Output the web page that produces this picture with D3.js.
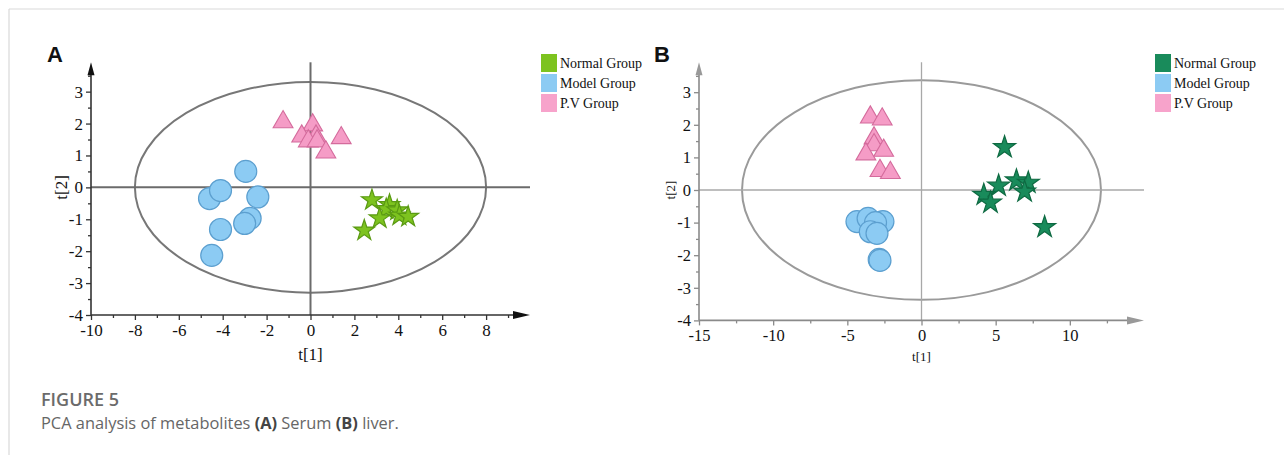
<!DOCTYPE html>
<html>
<head>
<meta charset="utf-8">
<script src="https://cdn.jsdelivr.net/npm/d3@7"></script>
<style>
  body { margin: 0; background: #fff; }
  svg { display: block; }
</style>
</head>
<body>
<script>
// group names (legend order)
var groups = ["Normal Group", "Model Group", "P.V Group"];

// panel A - serum PCA scores [t1, t2]
var serumNormal = [[2.8, -0.4], [3.6, -0.55], [3.45, -0.68], [3.95, -0.72], [4.05, -0.88], [4.45, -0.92], [3.15, -0.97], [2.45, -1.35]];
var serumModel  = [[-2.95, 0.5], [-4.6, -0.35], [-4.1, -0.1], [-2.4, -0.3], [-2.75, -0.97], [-3.0, -1.13], [-4.1, -1.32], [-4.5, -2.13]];
var serumPV     = [[-1.25, 2.05], [0.1, 1.95], [-0.4, 1.6], [0.25, 1.6], [-0.1, 1.45], [0.3, 1.45], [0.7, 1.1], [1.4, 1.55]];
var serumXTicks = [-10, -8, -6, -4, -2, 0, 2, 4, 6, 8];
var serumYTicks = [-4, -3, -2, -1, 0, 1, 2, 3];
var serumEllipse = [8, 3.3];

// panel B - liver PCA scores [t1, t2]
var liverNormal = [[5.6, 1.31], [5.2, 0.13], [6.4, 0.29], [7.2, 0.22], [6.95, -0.05], [4.2, -0.15], [4.65, -0.39], [8.3, -1.14]];
var liverModel  = [[-4.35, -0.97], [-3.6, -0.87], [-2.6, -0.97], [-3.1, -1.0], [-3.45, -1.28], [-3.0, -1.33], [-2.85, -2.13], [-2.8, -2.16]];
var liverPV     = [[-3.45, 2.23], [-2.65, 2.17], [-3.2, 1.59], [-3.2, 1.38], [-2.55, 1.21], [-3.75, 1.1], [-2.8, 0.59], [-2.1, 0.53]];
var liverXTicks = [-15, -10, -5, 0, 5, 10];
var liverYTicks = [-4, -3, -2, -1, 0, 1, 2, 3];
var liverEllipse = [12.1, 3.37];

var W = 1284, H = 457;
var svg = d3.select("body").append("svg").attr("width", W).attr("height", H);

// card frame
svg.append("line").attr("x1", 9).attr("y1", 9).attr("x2", W).attr("y2", 9)
  .attr("stroke", "#d9d9d9").attr("stroke-width", 1.2);
svg.append("line").attr("x1", 9).attr("y1", 9).attr("x2", 9).attr("y2", 455)
  .attr("stroke", "#d9d9d9").attr("stroke-width", 1.2);

var serif = "'Liberation Serif', 'Times New Roman', serif";

function minorTicks(ticks, step) {
  var out = [];
  for (var i = 0; i < ticks.length; i++) out.push(ticks[i] + step / 2);
  return out;
}

function drawPanel(p) {
  var x = d3.scaleLinear().domain(p.xDomain).range(p.xRange);
  var y = d3.scaleLinear().domain(p.yDomain).range(p.yRange);
  var g = svg.append("g");
  var x0 = p.xRange[0], yb = p.yRange[0], yt = p.yRange[1], xr = p.xRange[1];

  // letter
  g.append("text").attr("x", p.letterX).attr("y", 62).text(p.letter)
    .attr("font-family", "'Liberation Sans', Arial, sans-serif")
    .attr("font-weight", "bold").attr("font-size", 22).attr("fill", "#111");

  // ellipse (Hotelling T2)
  g.append("ellipse")
    .attr("cx", x(0)).attr("cy", y(0))
    .attr("rx", x(p.ellipse[0]) - x(0)).attr("ry", y(0) - y(p.ellipse[1]))
    .attr("fill", "none").attr("stroke", p.ellipseColor).attr("stroke-width", 2);

  // zero cross lines
  g.append("line").attr("x1", x0).attr("x2", xr).attr("y1", y(0)).attr("y2", y(0))
    .attr("stroke", p.crossColor).attr("stroke-width", p.crossWidth);
  g.append("line").attr("x1", x(0)).attr("x2", x(0)).attr("y1", yt).attr("y2", yb)
    .attr("stroke", p.crossColor).attr("stroke-width", p.crossWidth);

  // x axis
  var xa = g.append("g").attr("transform", "translate(0," + yb + ")")
    .call(d3.axisBottom(x).tickValues(p.xTicks).tickSize(5).tickPadding(4)
      .tickFormat(function(d) { return String(d); }));
  var xm = g.append("g").attr("transform", "translate(0," + yb + ")")
    .call(d3.axisBottom(x).tickValues(minorTicks(p.xTicks, p.xStep).filter(function(d) { return d < p.xDomain[1]; }))
      .tickSize(3).tickFormat(""));
  // y axis
  var ya = g.append("g").attr("transform", "translate(" + x0 + ",0)")
    .call(d3.axisLeft(y).tickValues(p.yTicks).tickSize(5).tickPadding(3)
      .tickFormat(function(d) { return String(d); }));
  var ym = g.append("g").attr("transform", "translate(" + x0 + ",0)")
    .call(d3.axisLeft(y).tickValues(minorTicks(p.yTicks, 1).filter(function(d) { return d < 3.6; }))
      .tickSize(3).tickFormat(""));

  [xa, xm, ya, ym].forEach(function(a) {
    a.select(".domain").remove();
    a.selectAll("line").attr("stroke", p.axisColor).attr("stroke-width", 1.3);
    a.selectAll("text").attr("font-family", serif).attr("font-size", p.tickFont).attr("fill", "#111");
  });

  // axis lines with arrows
  g.append("line").attr("x1", x0).attr("x2", xr - 8).attr("y1", yb).attr("y2", yb)
    .attr("stroke", p.axisColor).attr("stroke-width", 1.6);
  g.append("line").attr("x1", x0).attr("x2", x0).attr("y1", yb).attr("y2", yt + 8)
    .attr("stroke", p.axisColor).attr("stroke-width", 1.6);
  g.append("path")
    .attr("d", "M" + xr + "," + yb + "L" + (xr - 17) + "," + (yb - 4) + "L" + (xr - 17) + "," + (yb + 4) + "Z")
    .attr("fill", p.arrowColor);
  g.append("path")
    .attr("d", "M" + x0 + "," + yt + "L" + (x0 - 3.5) + "," + (yt + 13) + "L" + (x0 + 3.5) + "," + (yt + 13) + "Z")
    .attr("fill", p.arrowColor);

  // axis titles
  g.append("text").attr("x", x(0)).attr("y", p.xTitleY).attr("text-anchor", "middle")
    .attr("font-family", serif).attr("font-size", p.titleFont).attr("fill", "#111").text("t[1]");
  g.append("text").attr("transform", "translate(" + p.yTitleX + "," + y(0) + ") rotate(-90)")
    .attr("text-anchor", "middle").attr("dominant-baseline", "central")
    .attr("font-family", serif).attr("font-size", p.titleFont).attr("fill", "#111").text("t[2]");

  // points
  var circ = g.append("g");
  circ.selectAll("circle").data(p.model).enter().append("circle")
    .attr("cx", function(d) { return x(d[0]); })
    .attr("cy", function(d) { return y(d[1]); })
    .attr("r", 11)
    .attr("fill", "#8ccbf3").attr("stroke", "#5c9fcf").attr("stroke-width", 1.2);

  var tri = d3.symbol().type(d3.symbolTriangle).size(170);
  g.append("g").selectAll("path").data(p.pv).enter().append("path")
    .attr("d", tri)
    .attr("transform", function(d) { return "translate(" + x(d[0]) + "," + y(d[1]) + ")"; })
    .attr("fill", "#f59cc6").attr("stroke", "#d46b9c").attr("stroke-width", 1.1);

  var star = d3.symbol().type(d3.symbolStar).size(p.starSize);
  g.append("g").selectAll("path").data(p.normal).enter().append("path")
    .attr("d", star)
    .attr("transform", function(d) { return "translate(" + x(d[0]) + "," + y(d[1]) + ")"; })
    .attr("fill", p.normalFill).attr("stroke", p.normalStroke).attr("stroke-width", 1.2);

  // legend
  var legColors = [p.normalFill, "#8ccbf3", "#f7a3cb"];
  var lg = g.append("g").attr("transform", "translate(" + p.legendX + ",54)");
  lg.selectAll("rect").data(groups).enter().append("rect")
    .attr("x", 0).attr("y", function(d, i) { return i * 20; })
    .attr("width", 16).attr("height", 18)
    .attr("fill", function(d, i) { return legColors[i]; });
  lg.selectAll("text").data(groups).enter().append("text")
    .attr("x", 19).attr("y", function(d, i) { return i * 20 + 13.5; })
    .attr("font-family", serif).attr("font-size", 14).attr("fill", "#111")
    .text(function(d) { return d; });
}

drawPanel({
  letter: "A", letterX: 47,
  xDomain: [-10, 10], xRange: [91, 530], xTicks: serumXTicks, xStep: 2,
  yDomain: [-4, 3.92], yRange: [315, 62.3], yTicks: serumYTicks,
  ellipse: serumEllipse,
  normal: serumNormal, model: serumModel, pv: serumPV,
  axisColor: "#333", arrowColor: "#111", crossColor: "#6b6b6b", crossWidth: 2,
  ellipseColor: "#777",
  normalFill: "#7dc31f", normalStroke: "#5a9a12", starSize: 135,
  tickFont: 17, titleFont: 17, xTitleY: 360, yTitleX: 61,
  legendX: 541
});

drawPanel({
  letter: "B", letterX: 654,
  xDomain: [-15, 15], xRange: [699, 1144], xTicks: liverXTicks, xStep: 5,
  yDomain: [-4, 3.92], yRange: [320.4, 62.2], yTicks: liverYTicks,
  ellipse: liverEllipse,
  normal: liverNormal, model: liverModel, pv: liverPV,
  axisColor: "#8a8a8a", arrowColor: "#999", crossColor: "#a8a8a8", crossWidth: 1.3,
  ellipseColor: "#9a9a9a",
  normalFill: "#198b5b", normalStroke: "#0e6a42", starSize: 150,
  tickFont: 16.5, titleFont: 13, xTitleY: 361, yTitleX: 670,
  legendX: 1155
});

// caption
var cap = svg.append("g").attr("font-family", "'Open Sans', 'Noto Sans', sans-serif");
cap.append("text").attr("x", 41).attr("y", 406).attr("font-size", 18)
  .attr("font-weight", 600).attr("fill", "#6b6b6b").text("FIGURE 5");
var line2 = cap.append("text").attr("x", 41).attr("y", 428.5).attr("font-size", 16.4).attr("fill", "#666");
line2.append("tspan").text("PCA analysis of metabolites ");
line2.append("tspan").attr("font-weight", 700).attr("fill", "#444").text("(A)");
line2.append("tspan").text(" Serum ");
line2.append("tspan").attr("font-weight", 700).attr("fill", "#444").text("(B)");
line2.append("tspan").text(" liver.");
</script>
</body>
</html>
